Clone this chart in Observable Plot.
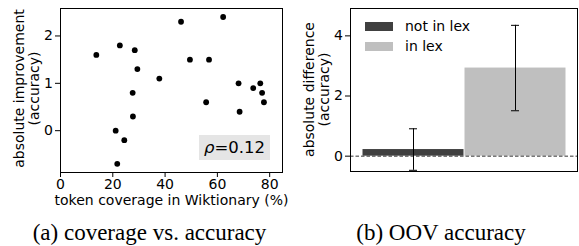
<!DOCTYPE html>
<html><head><meta charset="utf-8">
<script src="https://cdn.jsdelivr.net/npm/d3@7"></script>
<script src="https://cdn.jsdelivr.net/npm/@observablehq/plot@0.6"></script>
<style>
body{margin:0;background:#fff;}
#wrap{position:relative;width:579px;height:246px;font-family:"DejaVu Sans",sans-serif;color:#000;overflow:hidden;}
.panel{position:absolute;top:0;}
.cap{position:absolute;font-family:"Liberation Serif","Times New Roman",serif;font-size:23px;white-space:nowrap;transform:translateX(-50%);line-height:23px;}
.sw{position:absolute;width:28px;height:9px;}
.lt{position:absolute;font-size:14px;line-height:16px;white-space:nowrap;}
#rho{position:absolute;left:199px;top:135px;width:71px;height:25px;background:#e5e5e5;display:flex;align-items:center;justify-content:center;font-size:16.5px;}
</style></head><body>
<div id="wrap"></div>
<script>
// Panel (a): token coverage (%) vs absolute improvement (accuracy)
const coverage    = [13.7, 22.7, 28.4, 29.4, 27.6, 27.7, 21.1, 24.4, 21.7, 37.8, 46.1, 49.5, 56.8, 55.7, 62.2, 68.1, 68.5, 73.7, 76.4, 77.1, 77.8];
const improvement = [1.6,  1.8,  1.7,  1.3,  0.8,  0.3,  0.0, -0.2, -0.7,  1.1,  2.3,  1.5,  1.5,  0.6,  2.4,  1.0,  0.4,  0.9,  1.0,  0.8,  0.6];
const xTicksA = [0, 20, 40, 60, 80];
const yTicksA = [0, 1, 2];
const xLabelA = "token coverage in Wiktionary (%)";
const yLabelA = ["absolute improvement", "(accuracy)"];
const rhoText = "0.12";
const captionA = "(a) coverage vs. accuracy";

// Panel (b): OOV accuracy
const groups = ["not in lex", "in lex"];
const means  = [0.22, 2.93];
const errs   = [0.69, 1.42];
const barColors = ["#404040", "#bfbfbf"];
const yTicksB = [0, 2, 4];
const yLabelB = ["absolute difference", "(accuracy)"];
const captionB = "(b) OOV accuracy";

const points = coverage.map((c, i) => ({c, v: improvement[i]}));
const bars = groups.map((g, i) => ({g, m: means[i], e: errs[i]}));

const FS = 14;
const style = {fontFamily: "DejaVu Sans", fontSize: FS + "px", color: "black", background: "transparent", overflow: "visible"};
const fmt = d => String(d);

const left = Plot.plot({
  width: 290, height: 210,
  marginLeft: 60, marginRight: 8, marginTop: 8, marginBottom: 38,
  style,
  x: {domain: [0, 84.9], ticks: xTicksA, tickFormat: fmt, tickSize: 5, tickPadding: 2, label: null},
  y: {domain: [-0.883, 2.58], ticks: yTicksA, tickFormat: fmt, tickSize: 5, tickPadding: 2.5, label: null},
  marks: [
    Plot.dot(points, {x: "c", y: "v", r: 2.9, fill: "black", stroke: "none"}),
    Plot.frame({stroke: "black", strokeWidth: 1}),
    Plot.text([xLabelA], {frameAnchor: "bottom", dy: 32, lineAnchor: "bottom", fontSize: FS, text: d => d})
  ]
});

const right = Plot.plot({
  width: 289, height: 210,
  marginLeft: 60, marginRight: 2, marginTop: 8, marginBottom: 39,
  style,
  x: {domain: groups, paddingOuter: 0.11, paddingInner: 0, axis: null},
  y: {domain: [-0.51, 4.91], ticks: yTicksB, tickFormat: fmt, tickSize: 5, tickPadding: 2.5, label: null},
  color: {domain: groups, range: barColors},
  marks: [
    Plot.barY(bars, {x: "g", y: "m", fill: "g", insetLeft: 0.5, insetRight: 0.5}),
    Plot.ruleY([0], {stroke: "#333", strokeDasharray: "3.5,2", strokeWidth: 1}),
    Plot.ruleX(bars, {x: "g", y1: d => d.m - d.e, y2: d => d.m + d.e, stroke: "black", strokeWidth: 1}),
    Plot.tickY(bars, {x: "g", y: d => d.m + d.e, insetLeft: 47, insetRight: 47, stroke: "black"}),
    Plot.tickY(bars, {x: "g", y: d => d.m - d.e, insetLeft: 47, insetRight: 47, stroke: "black"}),
    Plot.frame({stroke: "black", strokeWidth: 1})
  ]
});

// rotated two-line y-axis titles (baselines at x offsets from frame left)
function addYTitle(svg, lines, frameLeft, frameMid) {
  const baselines = [frameLeft - 36.3, frameLeft - 21];
  lines.forEach((txt, i) => {
    d3.select(svg).append("text")
      .attr("transform", `translate(${baselines[i]},${frameMid}) rotate(-90)`)
      .attr("text-anchor", "middle")
      .attr("font-family", "DejaVu Sans")
      .attr("font-size", FS)
      .attr("fill", "black")
      .text(txt);
  });
}
addYTitle(left, yLabelA, 60, 88.5);
addYTitle(right, yLabelB, 60, 89.5);

const wrap = document.getElementById("wrap");
left.classList.add("panel"); left.style.left = "0px";
right.classList.add("panel"); right.style.left = "290px";
wrap.appendChild(left);
wrap.appendChild(right);

// rho annotation
const rho = document.createElement("div");
rho.id = "rho";
rho.innerHTML = "<span><i>\u03c1</i>=" + rhoText + "</span>";
wrap.appendChild(rho);

// legend for panel (b)
const legendTops = [21.5, 41.5];
groups.forEach((g, i) => {
  const sw = document.createElement("div");
  sw.className = "sw";
  sw.style.left = "365px"; sw.style.top = legendTops[i] + "px";
  sw.style.background = barColors[i];
  wrap.appendChild(sw);
  const t = document.createElement("div");
  t.className = "lt";
  t.style.left = "405px"; t.style.top = (legendTops[i] - 3.4) + "px";
  t.textContent = g;
  wrap.appendChild(t);
});

// captions
[[captionA, 149.5], [captionB, 441]].forEach(([txt, cx]) => {
  const c = document.createElement("div");
  c.className = "cap";
  c.style.left = cx + "px"; c.style.top = "220.7px";
  c.textContent = txt;
  wrap.appendChild(c);
});
</script>
</body></html>
